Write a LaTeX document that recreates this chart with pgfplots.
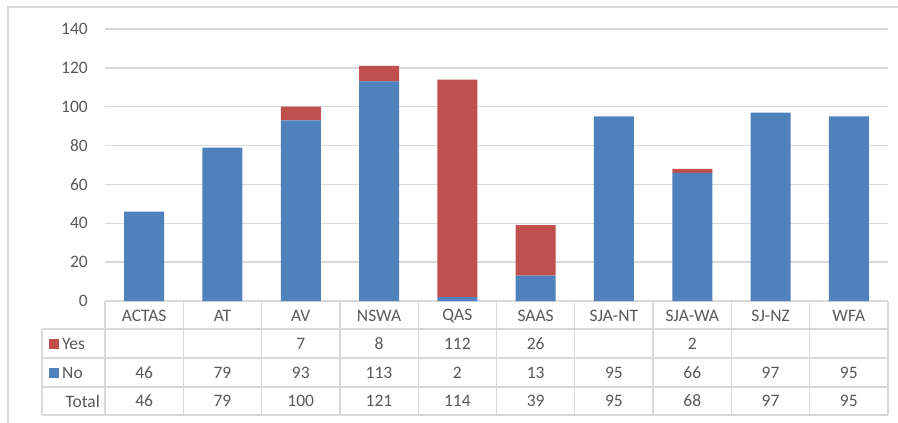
\documentclass[border=0pt]{standalone}
\usepackage{pgfplots}
\pgfplotsset{compat=1.18}
\usepackage{fontspec}
\setmainfont{Carlito}
\definecolor{cblue}{HTML}{4F81BD}
\definecolor{cred}{HTML}{C0504D}
\definecolor{tgray}{HTML}{595959}
\definecolor{lgray}{HTML}{D9D9D9}
\newcommand{\tf}{\fontsize{17.5}{21}\selectfont}
\begin{document}
\begin{tikzpicture}
\begin{scope}[x=1pt,y=-1pt]
\useasboundingbox (0,0) rectangle (898,423);
% outer frame (left and top)
\draw[lgray, line width=1.2pt] (8,423) -- (8,7) -- (898,7);
% table grid
\begin{scope}[lgray, line width=1.3pt]
\foreach \k in {0,...,10} \draw (105+78.3*\k,301) -- (105+78.3*\k,415);
\draw (42,329) -- (42,415);
\foreach \yy in {329,358,387,415} \draw (42,\yy) -- (888,\yy);
\end{scope}
% table text
\begin{scope}[font=\tf, text=tgray]
\foreach \n [count=\i from 0] in {ACTAS,AT,AV,NSWA,QAS,SAAS,SJA-NT,SJA-WA,SJ-NZ,WFA}
  \node at (144.15+78.3*\i,316) {\n};
\foreach \v [count=\i from 0] in {,,7,8,112,26,,2,,}
  \node at (144.15+78.3*\i,343.5) {\v};
\foreach \v [count=\i from 0] in {46,79,93,113,2,13,95,66,97,95}
  \node at (144.15+78.3*\i,372.5) {\v};
\foreach \v [count=\i from 0] in {46,79,100,121,114,39,95,68,97,95}
  \node at (144.15+78.3*\i,401) {\v};
\fill[cred] (49,339) rectangle (58.5,349);
\fill[cblue] (49,368) rectangle (58.5,378);
\node[anchor=west, inner sep=0pt] at (62,343.5) {Yes};
\node[anchor=west, inner sep=0pt] at (62,372.5) {No};
\node[anchor=east, inner sep=0pt] at (100,401) {Total};
\end{scope}
\end{scope}
\begin{axis}[
  at={(105pt,-301pt)}, anchor=south west,
  scale only axis, width=783pt, height=272pt,
  xmin=-0.5, xmax=9.5, ymin=0, ymax=140,
  ytick={0,20,...,140}, xtick=\empty,
  ymajorgrids, grid style={color=lgray, line width=1.3pt},
  axis line style={draw=none},
  major tick length=0pt,
  ybar stacked, bar width=40pt,
  tick label style={font=\tf, text=tgray},
  yticklabel style={inner sep=0pt, xshift=-17pt},
  /pgf/number format/assume math mode=true,
  clip=false,
]
\addplot[fill=cblue, draw=none] coordinates {(0,46) (1,79) (2,93) (3,113) (4,2) (5,13) (6,95) (7,66) (8,97) (9,95)};
\addplot[fill=cred, draw=none] coordinates {(0,0) (1,0) (2,7) (3,8) (4,112) (5,26) (6,0) (7,2) (8,0) (9,0)};
\end{axis}
\end{tikzpicture}
\end{document}
